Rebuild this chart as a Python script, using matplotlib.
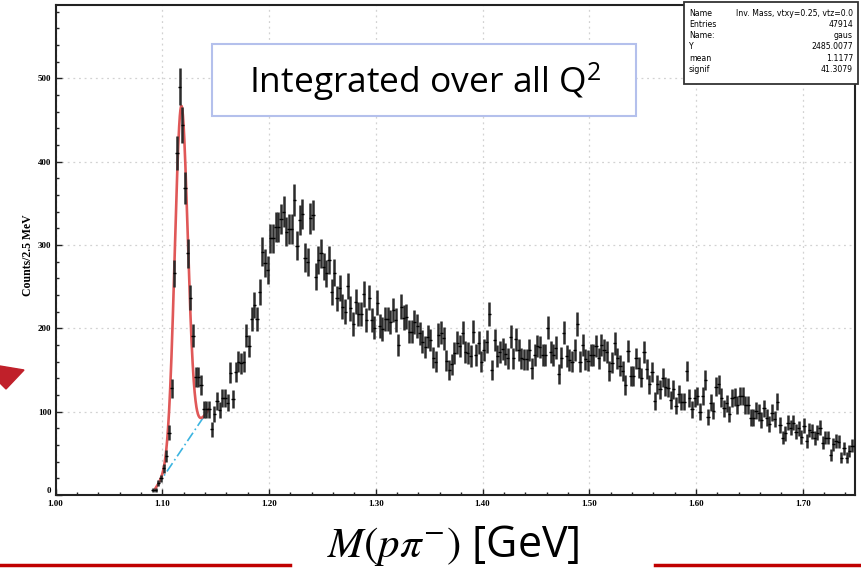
import numpy as np
import matplotlib.pyplot as plt
from matplotlib.patches import Rectangle, Polygon
from matplotlib.lines import Line2D

plt.rcParams['mathtext.fontset'] = 'stix'

W, H = 861, 572

# histogram: 2.5 MeV bins, first bin centre
bin_width = 0.0025
first_center = 1.09125
counts = [
    6, 6, 14, 20, 32, 47, 75, 128, 266, 410, 490, 444, 368, 290, 237, 191,
    142, 142, 132, 103, 103, 103, 79, 97,
    113, 102, 116, 116, 111, 147, 115, 148, 160, 158, 160, 191, 179, 211,
    228, 211, 244, 292, 278, 270, 308, 308, 322, 322, 331, 340, 316, 319,
    319, 354, 299, 330, 337, 285, 280, 332, 336, 262, 282,
    290, 274, 266, 282, 244, 267, 236, 248, 226, 220, 251, 224, 205, 232,
    217, 217, 241, 210, 237, 210, 201, 231, 203, 199, 211, 211, 208, 222,
    210, 180, 226, 213, 214, 196, 196, 208, 203, 194, 184, 178, 190, 186,
    165, 160,
    192, 195, 188, 161, 150, 157, 170, 183, 179, 195, 172, 170, 167, 196,
    168, 183, 160, 174, 184, 217, 150, 186, 167, 172, 175, 169, 164, 190,
    164, 187, 174, 164, 163, 163, 174, 152, 168, 179, 178, 168, 168, 201,
    172, 168, 177, 145,
    165, 195, 167, 162, 160, 174, 205, 160, 180, 163, 161, 168, 168, 179,
    164, 180, 174, 172, 149, 159, 182, 164, 155, 149, 132, 173, 143, 143,
    164, 153, 141, 172, 151, 133, 148, 113, 133, 127, 141, 130, 129, 114,
    127, 107, 121, 112, 112, 149, 116, 103, 116, 119, 100, 119, 138,
    94, 111, 101, 130, 133, 117, 104, 110, 97, 116, 118, 108, 119, 119,
    108, 108, 93, 93, 101, 99, 90, 104, 93, 85, 99, 91, 112, 84, 69, 74,
    87, 81, 87, 76, 80, 70, 83, 65, 78, 76, 68, 75, 81, 63, 69, 69, 48,
    61, 65, 64, 45, 56, 45, 53, 59, 59,
]
counts = np.array(counts, dtype=float)
centers = first_center + bin_width * np.arange(len(counts))

# fit: gaussian + linear background
fit_mean = 1.1177
fit_sigma = 0.0060
fit_amp = 413.0
bkg_x = [1.0947, 1.1431]
bkg_y = [10.0, 102.0]
fit_lo, fit_hi = 1.0935, 1.1435

stats_rows = [("Name", "Inv. Mass, vtxy=0.25, vtz=0.0"),
              ("Entries", "47914"),
              ("Name:", "gaus"),
              ("Y", "2485.0077"),
              ("mean", "1.1177"),
              ("signif", "41.3079")]


def fx(px):
    return px / W


def fy(py):
    return 1 - py / H


fig = plt.figure(figsize=(W / 100, H / 100), dpi=100)
ax = fig.add_axes([fx(55.6), fy(495), (855 - 55.6) / W, (495 - 5) / H])

slope = (bkg_y[1] - bkg_y[0]) / (bkg_x[1] - bkg_x[0])
bx = np.linspace(bkg_x[0], bkg_x[1], 50)
ax.plot(bx, bkg_y[0] + slope * (bx - bkg_x[0]), color='#3cb4e0',
        lw=1.2, ls=(0, (6, 2, 1, 2)), zorder=3)

m = np.linspace(fit_lo, fit_hi, 300)
fit = fit_amp * np.exp(-0.5 * ((m - fit_mean) / fit_sigma) ** 2) \
    + bkg_y[0] + slope * (m - bkg_x[0])
ax.plot(m, fit, color='#e05858', lw=1.9, zorder=3)

ax.errorbar(centers, counts, yerr=np.sqrt(counts), fmt='none',
            ecolor='#2b2b2b', elinewidth=1.8, capsize=0, zorder=4)
ax.errorbar(centers, counts, xerr=0.0015, fmt='none',
            ecolor='black', elinewidth=1.0, capsize=0, zorder=4)

ax.set_xlim(1.0, 1.749)
ax.set_ylim(0, 588)
ax.set_xticks(np.arange(1.0, 1.71, 0.1))
ax.set_xticks(np.arange(1.0, 1.75, 0.02), minor=True)
ax.set_yticks(np.arange(0, 501, 100))
ax.set_yticks(np.arange(0, 588, 20), minor=True)
ax.set_xticklabels(['%.2f' % v for v in np.arange(1.0, 1.71, 0.1)])
ax.tick_params(which='both', direction='in', color='#222222', width=1.0)
ax.tick_params(which='major', length=4.5)
ax.tick_params(which='minor', length=2.5)
ax.tick_params(axis='x', pad=3.5)
ax.tick_params(axis='y', pad=3)
for lab in ax.get_xticklabels() + ax.get_yticklabels():
    lab.set_family('Liberation Serif')
    lab.set_weight('bold')
    lab.set_fontsize(6.5)
ax.get_yticklabels()[0].set_verticalalignment('bottom')
ax.grid(True, which='major', color='#d2d2d2', ls=(0, (1.5, 3)), lw=0.9)
for sp in ax.spines.values():
    sp.set_linewidth(1.5)
    sp.set_color('#222222')

fig.text(fx(28), fy(255), 'Counts/2.5 MeV', rotation=90, family='Liberation Serif',
         weight='bold', fontsize=8.5, ha='center', va='center')

# stats box
fig.add_artist(Rectangle((fx(684), fy(84)), (858 - 684) / W, 82 / H,
                         transform=fig.transFigure, facecolor='white',
                         edgecolor='#333333', lw=1.3, zorder=10))
for k, (a, b) in enumerate(stats_rows):
    yy = fy(13 + 11.3 * k)
    fig.text(fx(689), yy, a, fontsize=5.6, family='DejaVu Sans', va='center',
             ha='left', zorder=11)
    fig.text(fx(853), yy, b, fontsize=5.6, family='DejaVu Sans', va='center',
             ha='right', zorder=11)

# title box
fig.add_artist(Rectangle((fx(212), fy(116)), 424 / W, 72 / H,
                         transform=fig.transFigure, facecolor='white',
                         edgecolor='#b4c0ec', lw=1.5, zorder=10))
fig.text(fx(425), fy(82), r'Integrated over all Q$^{\mathregular{2}}$', fontsize=25.5,
         family='Open Sans', ha='center', va='center', zorder=11)

# slide decorations
fig.text(fx(453), fy(546), r'$M(p\pi^{-})$ [GeV]', fontsize=31,
         family='Open Sans', ha='center', va='center')
fig.add_artist(Line2D([0, fx(290)], [fy(565), fy(565)], color='#c00000', lw=2.5))
fig.add_artist(Line2D([fx(655), 1], [fy(565), fy(565)], color='#c00000', lw=2.5))
fig.add_artist(Polygon([(fx(0), fy(366)), (fx(24), fy(370)), (fx(6), fy(389)),
                        (fx(0), fy(383))], closed=True, transform=fig.transFigure,
                       color='#c0202a'))

fig.savefig('out.png', dpi=100)
